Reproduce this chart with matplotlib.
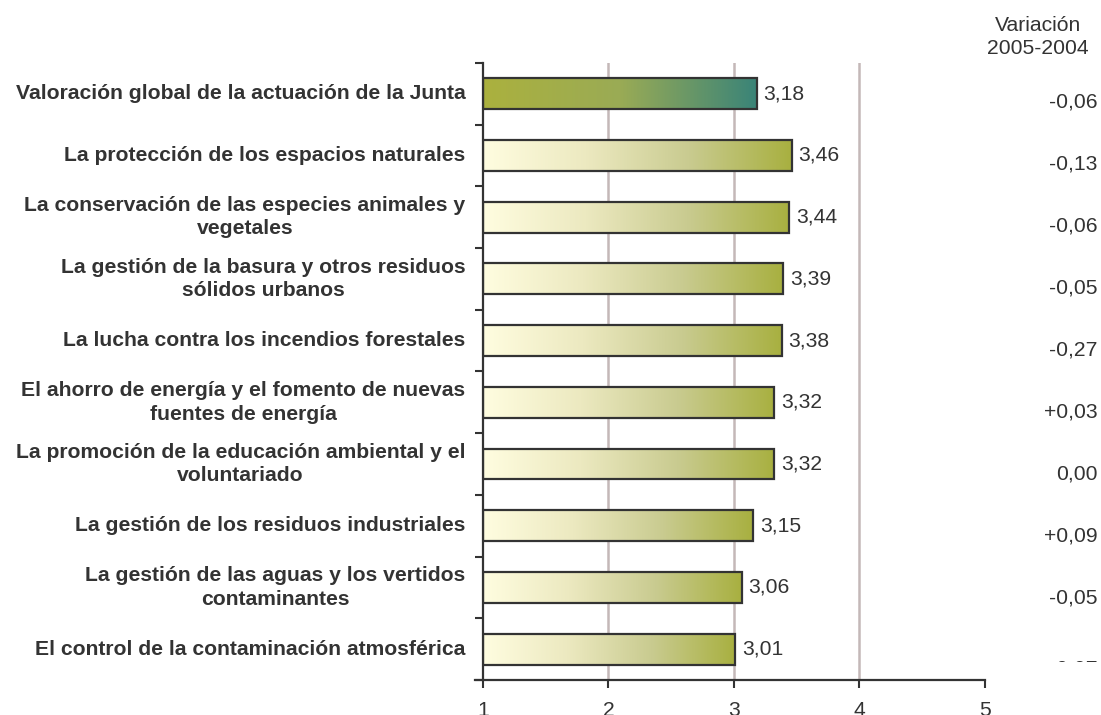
import numpy as np
import matplotlib.pyplot as plt
from matplotlib.colors import LinearSegmentedColormap
from matplotlib.transforms import Bbox, blended_transform_factory

plt.rcParams['font.family'] = ['Liberation Sans', 'DejaVu Sans']

categories = [
    'Valoración global de la actuación de la Junta',
    'La protección de los espacios naturales',
    'La conservación de las especies animales y\nvegetales',
    'La gestión de la basura y otros residuos\nsólidos urbanos',
    'La lucha contra los incendios forestales',
    'El ahorro de energía y el fomento de nuevas\nfuentes de energía',
    'La promoción de la educación ambiental y el\nvoluntariado',
    'La gestión de los residuos industriales',
    'La gestión de las aguas y los vertidos\ncontaminantes',
    'El control de la contaminación atmosférica',
]
values = [3.18, 3.46, 3.44, 3.39, 3.38, 3.32, 3.32, 3.15, 3.06, 3.01]
variation = ['-0,06', '-0,13', '-0,06', '-0,05', '-0,27', '+0,03', '0,00', '+0,09', '-0,05', '-0,07']
x_ticks = [1, 2, 3, 4, 5]

txt = '#333333'
fs = 15.2
cmap_global = LinearSegmentedColormap.from_list('g', ['#abb13e', '#9aab55', '#3a8478'])
cmap_items = LinearSegmentedColormap.from_list('i', ['#fffde0', '#ece9c0', '#c9cb90', '#a8b040'])

fig = plt.figure(figsize=(11.01, 7.15), dpi=100)
ax = fig.add_axes([0.4387, 0.049, 0.4559, 0.8630])

y = np.arange(len(values))
h = 0.5
grad = np.linspace(0, 1, 256).reshape(1, -1)

# gridlines
for xv in x_ticks[1:4]:
    ax.axvline(xv, color='#c4b8b8', lw=1.8, zorder=0)

# gradient fill + outline
for i, v in enumerate(values):
    cm = cmap_global if i == 0 else cmap_items
    ax.imshow(grad, cmap=cm, aspect='auto', extent=(1, v, i + h / 2, i - h / 2), zorder=2)
ax.barh(y, np.array(values) - 1, left=1, height=h, facecolor='none',
        edgecolor='#333333', linewidth=1.6, zorder=3)

for i, v in enumerate(values):
    ax.text(v + 0.055, i, f'{v:.2f}'.replace('.', ','), va='center', ha='left',
            fontsize=fs, color=txt)

ax.set_xlim(1, 5)
ax.set_ylim(len(values) - 0.5, -0.5)

# category labels
for i, c in enumerate(categories):
    ax.text(-0.035, i, c, transform=ax.get_yaxis_transform(), ha='right', va='center',
            multialignment='center', fontsize=fs, fontweight='bold', color=txt,
            linespacing=1.3)

ax.set_yticks([])
ax.set_yticks(np.arange(-0.5, len(values)), minor=True)
ax.tick_params(axis='y', which='minor', length=6, width=1.5, color='#333333', direction='out')
ax.set_xticks(x_ticks)
ax.set_xticklabels([str(t) for t in x_ticks], fontsize=fs, color=txt)
ax.tick_params(axis='x', length=6, width=1.5, color='#333333', pad=9)

for s in ['top', 'right']:
    ax.spines[s].set_visible(False)
for s in ['left', 'bottom']:
    ax.spines[s].set_color('#333333')
    ax.spines[s].set_linewidth(1.6)
ax.spines['bottom'].set_bounds(0.94, 5)

# variation column
fig.text(0.943, 0.948, 'Variación\n2005-2004', ha='center', va='center', fontsize=fs,
         color=txt, linespacing=1.3)
vtrans = blended_transform_factory(fig.transFigure, ax.transData)
clip = Bbox.from_extents(0, 53, 1101, 715)
for i, s in enumerate(variation):
    t = ax.text(0.997, 0.13 + i * 1.006, s, transform=vtrans, ha='right',
                va='center', fontsize=fs, color=txt, clip_on=False)
    if i == len(variation) - 1:
        # last value is hidden in the original, only its top edge shows
        t.set_y(9.32)
        t.set_clip_box(clip)
        t.set_clip_on(True)

fig.savefig('out.png', dpi=100)
